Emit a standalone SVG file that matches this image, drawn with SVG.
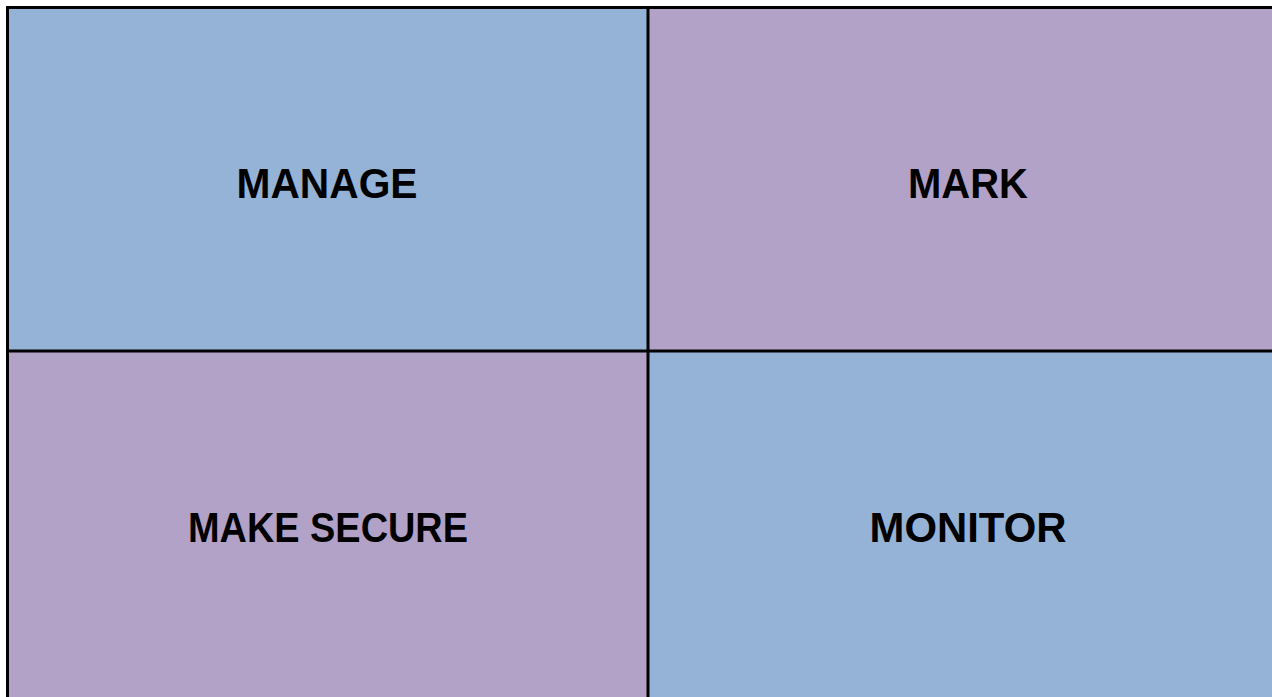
<svg xmlns="http://www.w3.org/2000/svg" width="1272" height="697" viewBox="0 0 1272 697">
<style>
.b{fill:#95B3D7}
.p{fill:#B3A2C7}
.t{font-family:"Liberation Sans",Arial,sans-serif;font-weight:bold;font-size:42px;fill:#000;text-anchor:middle}
.ln{stroke:#000;stroke-width:3;fill:none}
</style>
<rect width="1272" height="697" fill="#fff"/>
<g id="manage"><rect class="b" x="8" y="8" width="640" height="343"/><text class="t" x="327" y="198" textLength="181" lengthAdjust="spacingAndGlyphs">MANAGE</text></g>
<g id="mark"><rect class="p" x="648" y="8" width="624" height="343"/><text class="t" x="968" y="198" textLength="120" lengthAdjust="spacingAndGlyphs">MARK</text></g>
<g id="make-secure"><rect class="p" x="8" y="351" width="640" height="346"/><text class="t" x="328" y="542" textLength="280" lengthAdjust="spacingAndGlyphs">MAKE SECURE</text></g>
<g id="monitor"><rect class="b" x="648" y="351" width="624" height="346"/><text class="t" x="968" y="542" textLength="197" lengthAdjust="spacingAndGlyphs">MONITOR</text></g>
<g id="connectors">
<path class="ln" d="M7.5 697V7.5H1272M648 7.5V697M7.5 351H1272"/>
</g>
</svg>
